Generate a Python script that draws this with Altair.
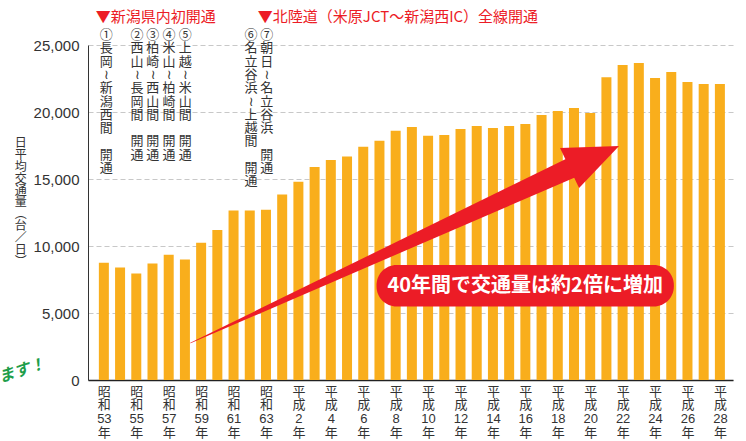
import altair as alt
import pandas as pd

# ---------------- data ----------------
eras = ["昭和"] * 11 + ["平成"] * 28
era_years = [53, 54, 55, 56, 57, 58, 59, 60, 61, 62, 63,
             1, 2, 3, 4, 5, 6, 7, 8, 9, 10, 11, 12, 13, 14, 15, 16, 17, 18, 19, 20,
             21, 22, 23, 24, 25, 26, 27, 28]
traffic = [8750, 8400, 7950, 8700, 9350, 9000, 10250, 11200, 12650, 12650, 12700,
           13850, 14800, 15900, 16420, 16670, 17400, 17850, 18600, 18880, 18220,
           18280, 18730, 18950, 18800, 18950, 19100, 19780, 20070, 20300, 19920,
           22600, 23500, 23660, 22540, 22990, 22240, 22090, 22090]
y_ticks = [0, 5000, 10000, 15000, 20000, 25000]

# opening annotations (vertical text columns): section name + "開通"
open_idx = [0.15, 2.05, 3.02, 4.02, 5.02, 9.08, 10.05]
open_sect = ["①長岡≀新潟西間", "②西山≀長岡間", "③柏崎≀西山間", "④米山≀柏崎間",
             "⑤上越≀米山間", "⑥名立谷浜≀上越間", "⑦朝日≀名立谷浜"]
open_word = "開通"
header_idx = [-0.5, 9.5]
header_text = ["▼新潟県内初開通", "▼北陸道（米原JCT～新潟西IC）全線開通"]
y_title = "日平均交通量︵台／日︶"
callout = "40年間で交通量は約2倍に増加"
arrow_x = [5.34, 29.21]
arrow_y = [2760, 16045]
arrow_w = [0.5, 21]

BAR = "#F9AE1C"
RED = "#EC1C26"
GREEN = "#1E9E4A"
FONT = "Liberation Sans, Noto Sans CJK JP, DejaVu Sans, sans-serif"
CJK = "Noto Sans CJK JP, DejaVu Sans, sans-serif"

idx = list(range(len(traffic)))
df = pd.DataFrame({"idx": idx, "v": traffic})

tick_idx = [i for i in idx if i % 2 == 0]
tick_labels = [f"{eras[i][0]}|{eras[i][1]}|{era_years[i]}|年" for i in tick_idx]
arr = "[" + ",".join("'" + t + "'" for t in tick_labels) + "]"
label_expr = "split(" + arr + "[round(datum.value/2)], '|')"

xscale = alt.Scale(domain=[-0.67, 38.5], nice=False, zero=False)
yscale = alt.Scale(domain=[0, 25000], nice=False)

xaxis = alt.Axis(values=tick_idx, labelExpr=label_expr, title="", ticks=False, grid=False,
                 labelAngle=0, labelFlush=False, labelOverlap=False, labelBound=False,
                 labelPadding=5, labelFontSize=13, labelLineHeight=13.7, labelColor="#333",
                 labelFont=FONT, labelBaseline="top", domainColor="#222", domainWidth=1.5)
yaxis = alt.Axis(values=y_ticks, format=",d", title="", ticks=False, grid=True,
                 gridDash=[5, 3], gridColor="#c8c8c8", gridWidth=1.2,
                 labelFontSize=15, labelPadding=9, labelColor="#333", labelFont=FONT,
                 domainColor="#333", domainWidth=1)


def X(f):
    return alt.X(f, scale=xscale, axis=xaxis, title="")


def Y(f):
    return alt.Y(f, scale=yscale, axis=yaxis, title="")


bars = alt.Chart(df).mark_bar(size=10, color=BAR).encode(x=X("idx:Q"), y=Y("v:Q"))

LH = 13.3
TOP = 26194
unit = 25000 / 335.0
open_df = pd.DataFrame({
    "x": open_idx,
    "y": [TOP] * len(open_idx),
    "t": ["\n".join(list(s)) for s in open_sect],
    "y2": [TOP - (len(s) + 1) * LH * unit for s in open_sect],
    "t2": ["\n".join(list(open_word))] * len(open_sect),
})
opens = alt.Chart(open_df).mark_text(lineBreak="\n", baseline="top", align="center",
                                     fontSize=13, lineHeight=LH, font=CJK, color="#333").encode(
    x=X("x:Q"), y=Y("y:Q"), text="t:N")
opens2 = alt.Chart(open_df).mark_text(lineBreak="\n", baseline="top", align="center",
                                      fontSize=13, lineHeight=LH, font=CJK, color="#333").encode(
    x=X("x:Q"), y=Y("y2:Q"), text="t2:N")

head_df = pd.DataFrame({"x": header_idx, "y": [27090, 27090], "t": header_text})
heads = alt.Chart(head_df).mark_text(align="left", baseline="middle", fontSize=15,
                                     font=CJK, color=RED).encode(
    x=X("x:Q"), y=Y("y:Q"), text="t:N")

yt_df = pd.DataFrame({"x": [-5.12], "y": [18060], "t": ["\n".join(list(y_title))]})
ytitle = alt.Chart(yt_df).mark_text(lineBreak="\n", baseline="top", align="center",
                                    fontSize=12, lineHeight=11.9, font=CJK, color="#333").encode(
    x=X("x:Q"), y=Y("y:Q"), text="t:N")

arrow_df = pd.DataFrame({"x": arrow_x, "y": arrow_y, "w": arrow_w, "o": [0, 1]})
shaft = alt.Chart(arrow_df).mark_trail(color=RED).encode(
    x=X("x:Q"), y=Y("y:Q"), size=alt.Size("w:Q", scale=None, legend=None),
    order="o:Q")
head_pt = pd.DataFrame({"x": [29.93], "y": [15896]})
head = alt.Chart(head_pt).mark_point(shape="M 1 -0.7 L -0.967 -0.633 L -0.333 0.7 Z",
                                     size=3600, filled=True, color=RED, opacity=1,
                                     strokeWidth=0).encode(x=X("x:Q"), y=Y("y:Q"))

box_df = pd.DataFrame({"x": [16.82], "x2": [35.16], "y": [5485], "y2": [8582],
                       "tx": [25.99], "ty": [7015], "t": [callout]})
box = alt.Chart(box_df).mark_rect(cornerRadius=20, color=RED).encode(
    x=X("x:Q"), x2="x2:Q", y=Y("y:Q"), y2="y2:Q")
box_text = alt.Chart(box_df).mark_text(fontSize=20, fontWeight="bold", color="white",
                                       font=CJK, align="center", baseline="middle").encode(
    x=X("tx:Q"), y=Y("ty:Q"), text="t:N")

masu_df = pd.DataFrame({"x": [-5.05], "y": [700], "t": ["ます！"]})
masu = alt.Chart(masu_df).mark_text(angle=343, fontSize=16, fontStyle="italic",
                                    fontWeight="bold", color=GREEN, font=CJK,
                                    align="center", baseline="middle").encode(
    x=X("x:Q"), y=Y("y:Q"), text="t:N")

chart = alt.layer(bars, shaft, head, box, box_text, opens, opens2, heads, ytitle, masu).properties(
    width=645, height=335,
    autosize=alt.AutoSizeParams(type="none"),
    padding={"left": 88, "top": 45, "right": 13, "bottom": 61},
    background="white",
).configure_view(strokeWidth=0)

chart.save("out.html", embed_options={"renderer": "svg", "actions": False})
